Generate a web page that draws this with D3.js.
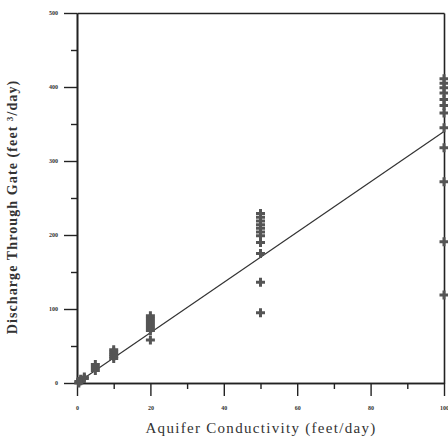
<!DOCTYPE html>
<html>
<head>
<meta charset="utf-8">
<script src="https://cdn.jsdelivr.net/npm/d3@7"></script>
<style>
  html, body { margin: 0; padding: 0; background: #fff; }
  svg { display: block; }
</style>
</head>
<body>
<div id="chart"></div>
<script>
// ---- data ----
const conductivity = [0.5, 1, 2, 5, 10, 20, 50, 100];
const discharge = [
  [0, 2],
  [3, 5],
  [6, 8],
  [17, 21, 25],
  [33, 36, 39, 42, 45],
  [58, 71, 75, 79, 83, 87, 91],
  [95, 136, 175, 190, 199, 204, 209, 214, 219, 224, 229],
  [119, 191, 272, 318, 345, 365, 375, 383, 392, 399, 405, 411]
];
const fitX = [0, 100];
const fitY = [0, 340];
const xMajorTicks = [0, 20, 40, 60, 80, 100];
const xMinorTicks = [10, 30, 50, 70, 90];
const yMajorTicks = [0, 100, 200, 300, 400, 500];
const yMinorTicks = [50, 150, 250, 350, 450];
const xTitle = "Aquifer Conductivity (feet/day)";
const yTitle = "Discharge Through Gate (feet \u00B3/day)";

// ---- layout ----
const W = 448, H = 437;
const mLeft = 77, mRight = 444, mTop = 13, mBottom = 383;

const svg = d3.select("#chart").append("svg").attr("width", W).attr("height", H);

const x = d3.scaleLinear().domain([0, 100]).range([mLeft, mRight]);
const y = d3.scaleLinear().domain([0, 500]).range([mBottom, mTop]);

const ink = "#222";

function styleAxis(g) {
  g.selectAll("path.domain").attr("stroke", ink).attr("stroke-width", 1.6);
  g.selectAll(".tick line").attr("stroke", ink).attr("stroke-width", 1.4);
  g.selectAll(".tick text").attr("fill", "#333")
    .attr("font-family", "Liberation Serif, serif").attr("font-size", 6).attr("font-weight", "bold");
}

// x axis major
svg.append("g").attr("transform", `translate(0,${mBottom})`)
  .call(d3.axisBottom(x).tickValues(xMajorTicks).tickSize(13).tickSizeOuter(0).tickPadding(10).tickFormat(d3.format("d")))
  .call(styleAxis);
// x axis minor
svg.append("g").attr("transform", `translate(0,${mBottom})`)
  .call(d3.axisBottom(x).tickValues(xMinorTicks).tickSize(6).tickSizeOuter(0).tickFormat(""))
  .call(styleAxis);
// y axis major
svg.append("g").attr("transform", `translate(${mLeft},0)`)
  .call(d3.axisLeft(y).tickValues(yMajorTicks).tickSize(13).tickSizeOuter(0).tickPadding(6).tickFormat(d3.format("d")))
  .call(styleAxis);
// y axis minor
svg.append("g").attr("transform", `translate(${mLeft},0)`)
  .call(d3.axisLeft(y).tickValues(yMinorTicks).tickSize(6).tickSizeOuter(0).tickFormat(""))
  .call(styleAxis);
// top border
svg.append("g").attr("transform", `translate(0,${mTop})`)
  .call(d3.axisTop(x).tickValues([]).tickSizeOuter(0))
  .call(styleAxis);
// right border
svg.append("g").attr("transform", `translate(${mRight},0)`)
  .call(d3.axisRight(y).tickValues([]).tickSizeOuter(0))
  .call(styleAxis);

// fit line
const fitData = fitX.map((v, i) => [v, fitY[i]]);
svg.append("path")
  .datum(fitData)
  .attr("fill", "none")
  .attr("stroke", "#333")
  .attr("stroke-width", 1.2)
  .attr("d", d3.line().x(d => x(d[0])).y(d => y(d[1])));

// points
const pts = [];
conductivity.forEach((c, i) => discharge[i].forEach(v => pts.push([c, v])));
const plus = "M-4.5,-1.5H-1.5V-4.5H1.5V-1.5H4.5V1.5H1.5V4.5H-1.5V1.5H-4.5Z";
svg.append("g").selectAll("path")
  .data(pts).join("path")
  .attr("d", plus)
  .attr("transform", d => `translate(${x(d[0])},${y(d[1])})`)
  .attr("fill", "#555");

// titles
svg.append("text")
  .attr("x", 261).attr("y", 433)
  .attr("text-anchor", "middle")
  .attr("font-family", "Liberation Serif, serif")
  .attr("font-size", 15)
  .attr("letter-spacing", 1.3)
  .attr("fill", "#333")
  .text(xTitle);

svg.append("text")
  .attr("transform", "translate(17,207) rotate(-90)")
  .attr("text-anchor", "middle")
  .attr("font-family", "Liberation Serif, serif")
  .attr("font-size", 14)
  .attr("font-weight", "bold")
  .attr("letter-spacing", 1.1)
  .attr("fill", "#333")
  .text(yTitle);
</script>
</body>
</html>
